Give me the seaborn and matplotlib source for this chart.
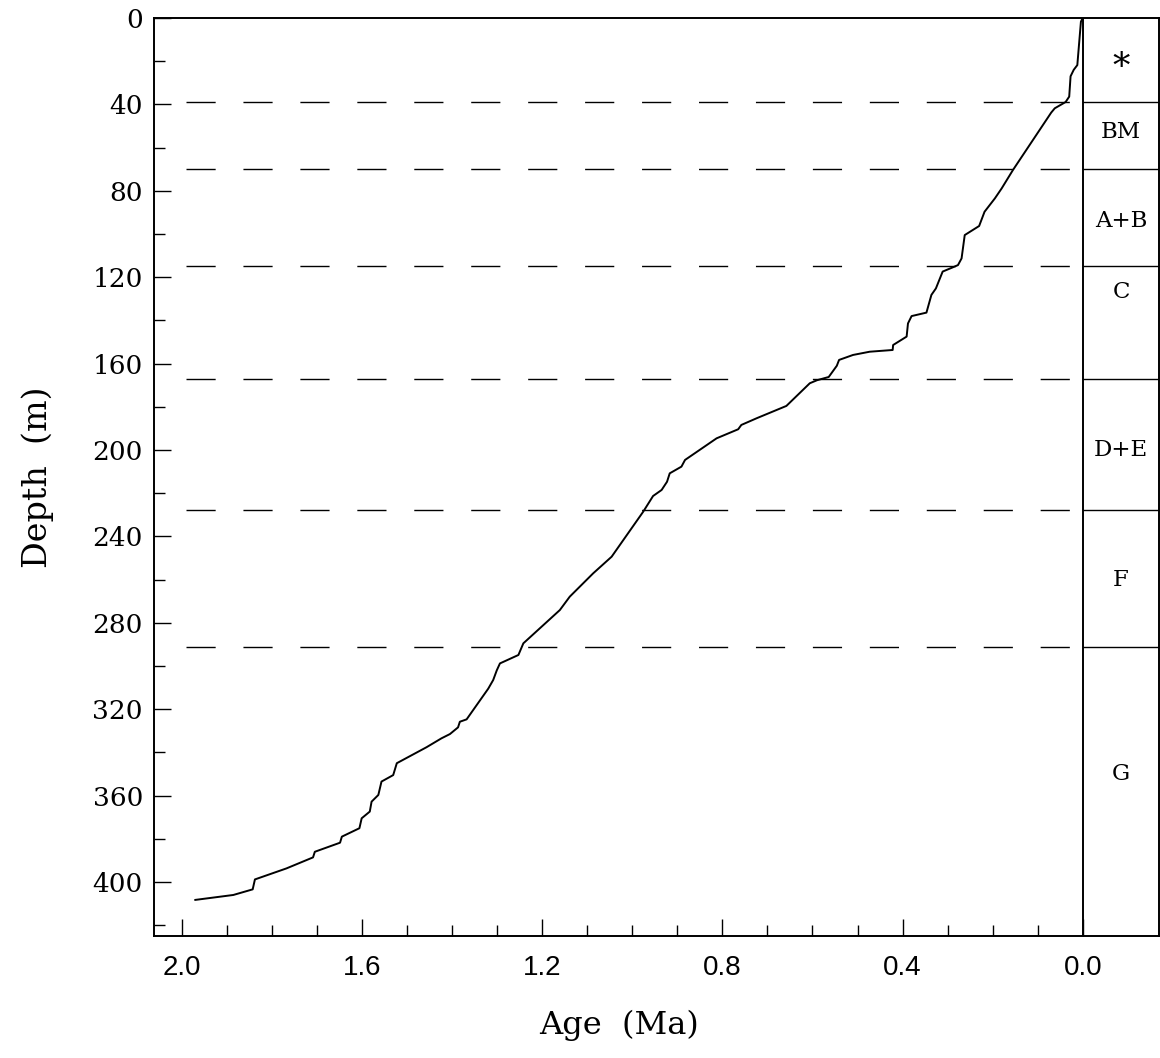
import matplotlib
matplotlib.use("Agg")
import matplotlib.pyplot as plt
import seaborn as sns
import pandas as pd
import numpy as np
from matplotlib.ticker import FixedLocator

# Age-depth model of the core
age_ma = [0.0, 0.004, 0.008, 0.012, 0.02, 0.027, 0.03, 0.038, 0.062, 0.07,
          0.155, 0.18, 0.195, 0.218, 0.23, 0.262, 0.269, 0.277, 0.288, 0.311,
          0.326, 0.336, 0.347, 0.38, 0.388, 0.391, 0.421, 0.422, 0.473, 0.51,
          0.541, 0.546, 0.564, 0.59, 0.606, 0.658, 0.724, 0.758, 0.765, 0.813,
          0.883, 0.891, 0.917, 0.923, 0.935, 0.954, 0.976, 1.046, 1.087, 1.139,
          1.161, 1.242, 1.253, 1.294, 1.301, 1.309, 1.32, 1.368, 1.383, 1.387,
          1.405, 1.424, 1.457, 1.523, 1.531, 1.557, 1.564, 1.579, 1.583, 1.601,
          1.606, 1.645, 1.649, 1.705, 1.709, 1.768, 1.838, 1.843, 1.886, 1.971]
depth_m = [0.0, 1.7, 11.7, 21.8, 24.0, 27.0, 36.4, 38.9, 41.8, 43.8,
           70.4, 78.9, 83.5, 89.7, 96.3, 100.5, 111.3, 114.4, 115.4, 117.4,
           125.2, 128.2, 136.4, 138.0, 141.4, 147.5, 151.4, 153.7, 154.5, 156.0,
           158.3, 161.0, 166.2, 167.7, 169.1, 179.6, 185.3, 188.4, 190.4, 194.6,
           204.6, 207.7, 210.8, 214.7, 218.5, 221.3, 228.6, 249.4, 257.1, 267.9,
           274.1, 289.5, 294.9, 298.8, 302.0, 306.5, 310.5, 324.7, 325.8, 328.4,
           331.5, 333.5, 337.6, 345.0, 350.5, 353.5, 359.7, 362.8, 367.4, 370.5,
           375.1, 379.0, 381.8, 386.0, 388.6, 393.7, 398.8, 403.4, 406.0, 408.3]

# Unit boundaries (m) and unit labels
boundaries_m = [39, 70, 115, 167, 228, 291]
unit_labels = ["*", "BM", "A+B", "C", "D+E", "F", "G"]
unit_label_depth = [23, 53, 94, 127, 200, 260, 350]

x_ticks = [2.0, 1.6, 1.2, 0.8, 0.4, 0.0]
y_ticks = [0, 40, 80, 120, 160, 200, 240, 280, 320, 360, 400]

sns.set_theme(style="ticks")
plt.rcParams["font.family"] = ["DejaVu Serif", "DejaVu Sans"]

fig = plt.figure(figsize=(11.6, 10.58), dpi=100)
ax = fig.add_axes([0.1328, 0.1153, 0.8662, 0.8677])

df = pd.DataFrame({"age": age_ma, "depth": depth_m})
sns.lineplot(data=df, x="age", y="depth", sort=False, estimator=None,
             color="black", linewidth=1.4, ax=ax)

x_left, x_right = 2.062, -0.169
y_bottom = 425

# boundaries: dashed across the plot, solid inside the unit column
for d in boundaries_m:
    ax.plot([1.99, 0.0], [d, d], color="black", linewidth=1.0,
            linestyle=(0, (21, 20)))
    ax.plot([0.0, x_right], [d, d], color="black", linewidth=1.0)

ax.axvline(0.0, color="black", linewidth=1.4)

for lab, d in zip(unit_labels, unit_label_depth):
    size = 25 if lab == "*" else 16.5
    ax.text(-0.085, d, lab, ha="center", va="center", fontsize=size,
            family="DejaVu Serif", color="black")

ax.set_xlim(x_left, x_right)
ax.set_ylim(y_bottom, 0)

ax.xaxis.set_major_locator(FixedLocator(x_ticks))
ax.xaxis.set_minor_locator(FixedLocator([round(v, 1) for v in np.arange(0.1, 2.0, 0.1)
                                         if round(v, 1) not in x_ticks]))
ax.yaxis.set_major_locator(FixedLocator(y_ticks))
ax.yaxis.set_minor_locator(FixedLocator(list(range(20, 425, 40))))

ax.set_xticklabels([f"{v:.1f}" for v in x_ticks], family="Liberation Sans", fontsize=20)
ax.set_yticklabels([str(v) for v in y_ticks], family="DejaVu Serif", fontsize=19)

ax.tick_params(axis="both", which="major", direction="in", length=12, width=1.0,
               color="black", labelcolor="black")
ax.tick_params(axis="both", which="minor", direction="in", length=8, width=1.0,
               color="black")
ax.tick_params(axis="x", which="major", pad=14)
ax.tick_params(axis="y", which="major", pad=8)
ax.tick_params(top=False, right=False, which="both")

for s in ax.spines.values():
    s.set_color("black")
    s.set_linewidth(1.4)

ax.set_xlabel("Age  (Ma)", fontsize=23, family="DejaVu Serif", color="black")
ax.set_ylabel("Depth  (m)", fontsize=24, family="DejaVu Serif", color="black")
ax.xaxis.set_label_coords(0.463, -0.08)
ax.yaxis.set_label_coords(-0.10, 0.5)

fig.savefig("out.png", dpi=100, facecolor="white")
